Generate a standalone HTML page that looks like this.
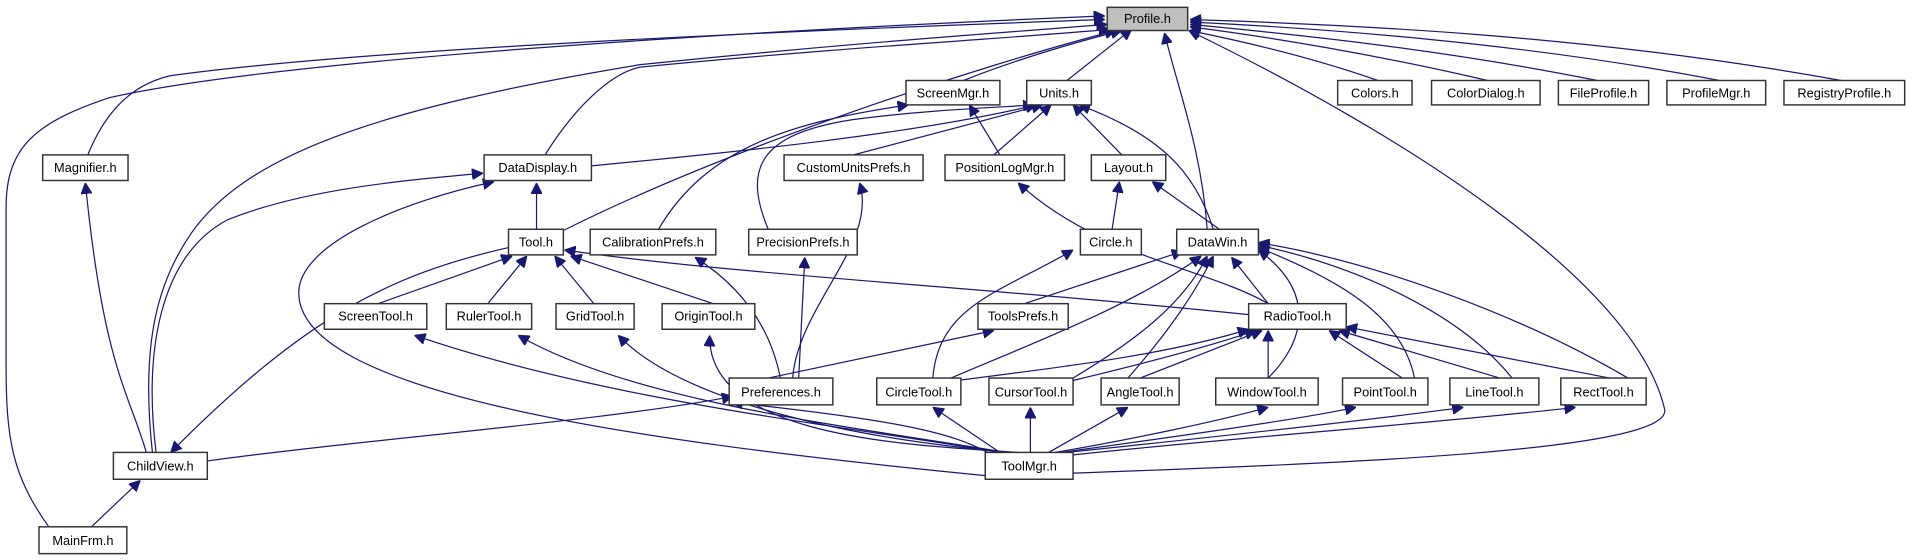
<!DOCTYPE html>
<html><head><meta charset="utf-8"><style>
html,body{margin:0;padding:0;background:#fff;}
svg{display:block}
text{font-family:"Liberation Sans",sans-serif;font-size:10.5px;fill:#000;text-anchor:middle}
rect{fill:#fff;stroke:#333;stroke-width:1.2}
path{fill:none;stroke:#191970;stroke-width:1}
</style></head><body>
<svg width="1912" height="560" viewBox="0 0 1568 459.2" xmlns="http://www.w3.org/2000/svg">
<defs><marker id="a" viewBox="0 0 10 10" refX="10" refY="5" markerWidth="9" markerHeight="9" markerUnits="userSpaceOnUse" orient="auto"><path d="M0,0L10,5L0,10z" style="fill:#191970;stroke:#191970"/></marker></defs>
<g marker-end="url(#a)">
<!-- to Profile -->
<path d="M40,432 C10,390 5,360 5,300 L5,170 C5,120 30,100 90,80 C200,55 500,30 906,13"/>
<path d="M72,127 C85,95 105,70 140,62 C300,40 650,25 906,16"/>
<path d="M125,371 C115,280 130,230 157,191 C200,130 300,90 525,53 C700,35 820,27 908,20"/>
<path d="M447,127 C470,90 500,60 525,55 C700,38 850,30 910,24"/>
<path d="M462,189 C600,120 800,55 915,25"/>
<path d="M790,66 C830,50 880,35 920,25"/>
<path d="M875,66 L928,24"/>
<path d="M990,188 C985,120 965,70 955,27"/>
<path d="M880,388 C1100,380 1375,370 1365,335 C1340,230 1150,110 975,25"/>
<path d="M1130,66 C1070,45 1010,32 975,25"/>
<path d="M1220,66 C1130,45 1040,30 976,22"/>
<path d="M1310,66 C1180,40 1060,28 976,20"/>
<path d="M1410,66 C1250,35 1080,23 976,18"/>
<path d="M1510,66 C1300,28 1100,20 976,16"/>
<!-- Magnifier, DataDisplay -->
<path d="M120,371 C105,320 85,300 70,150"/>
<path d="M128,371 C118,290 130,210 187,180 C250,155 330,148 396,142"/>
<path d="M808,390 C500,360 245,320 245,240 C245,200 330,165 405,149"/>
<path d="M440,188 L440,150"/>
<path d="M417,203 C320,225 250,260 140,371"/>
<!-- tools to Tool -->
<path d="M310,249 L420,210"/>
<path d="M400,249 L432,210"/>
<path d="M487,249 L455,210"/>
<path d="M585,249 L468,210"/>
<path d="M1024,258 C800,235 600,225 463,205"/>
<!-- Units etc -->
<path d="M485,136 C600,125 750,110 850,86"/>
<path d="M540,188 C580,120 650,100 745,86"/>
<path d="M630,188 C610,140 620,110 700,98 C760,90 820,88 848,86"/>
<path d="M700,127 L855,86"/>
<path d="M815,127 L862,86"/>
<path d="M820,127 L795,86"/>
<path d="M920,127 L880,86"/>
<path d="M995,188 C980,140 950,110 885,86"/>
<path d="M912,188 L918,149"/>
<path d="M1000,188 L945,149"/>
<path d="M1040,249 C990,220 900,210 835,150"/>
<path d="M650,310 C655,250 720,200 705,150"/>
<path d="M640,310 C630,260 600,230 570,211"/>
<path d="M655,310 L660,211"/>
<path d="M630,310 L815,271"/>
<path d="M840,249 L970,206"/>
<path d="M170,378 C300,360 500,345 601,325"/>
<!-- row6 to DataWin/RadioTool/Circle -->
<path d="M765,310 C770,250 820,240 880,205"/>
<path d="M780,310 C850,280 930,250 985,210"/>
<path d="M880,310 C930,280 970,250 990,210"/>
<path d="M925,310 C960,270 980,240 995,210"/>
<path d="M1040,310 C1070,280 1080,240 1032,205"/>
<path d="M1160,310 C1150,260 1100,230 1032,203"/>
<path d="M1240,310 C1200,260 1120,220 1032,201"/>
<path d="M1335,310 C1250,260 1130,215 1032,199"/>
<path d="M1040,249 L1010,211"/>
<path d="M785,312 C880,300 960,290 1024,270"/>
<path d="M880,312 C930,300 990,285 1030,271"/>
<path d="M935,310 L1035,271"/>
<path d="M1040,310 L1040,271"/>
<path d="M1150,310 L1090,271"/>
<path d="M1230,310 L1098,271"/>
<path d="M1320,310 L1104,268"/>
<!-- to ToolMgr tiers -->
<path d="M820,371 C700,350 500,330 340,275"/>
<path d="M825,371 C700,350 520,330 425,275"/>
<path d="M830,371 C700,360 560,330 507,275"/>
<path d="M835,371 C750,365 580,360 582,275"/>
<path d="M810,371 C780,355 740,345 600,330"/>
<path d="M820,371 L765,334"/>
<path d="M845,371 L845,334"/>
<path d="M860,371 L925,334"/>
<path d="M865,371 C930,360 1000,345 1040,334"/>
<path d="M870,371 C950,360 1060,345 1112,334"/>
<path d="M875,371 C980,360 1120,345 1200,334"/>
<path d="M880,373 C1000,360 1200,345 1292,334"/>
<path d="M75,432 L115,394"/>
</g>
<g>
<rect x="908" y="6" width="66" height="19" style="fill:#bfbfbf"/><text x="941" y="19">Profile.h</text>
<rect x="743" y="66" width="77" height="20"/><text x="781.5" y="80">ScreenMgr.h</text>
<rect x="842" y="66" width="53" height="20"/><text x="868.5" y="80">Units.h</text>
<rect x="1097" y="66" width="61" height="20"/><text x="1127.5" y="80">Colors.h</text>
<rect x="1174" y="66" width="89" height="20"/><text x="1218.5" y="80">ColorDialog.h</text>
<rect x="1278" y="66" width="74" height="20"/><text x="1315" y="80">FileProfile.h</text>
<rect x="1367" y="66" width="81" height="20"/><text x="1407.5" y="80">ProfileMgr.h</text>
<rect x="1463" y="66" width="99" height="20"/><text x="1512.5" y="80">RegistryProfile.h</text>
<rect x="35" y="127" width="70" height="21"/><text x="70" y="141">Magnifier.h</text>
<rect x="397" y="127" width="88" height="21"/><text x="441" y="141">DataDisplay.h</text>
<rect x="643" y="127" width="114" height="21"/><text x="700" y="141">CustomUnitsPrefs.h</text>
<rect x="775" y="127" width="98" height="21"/><text x="824" y="141">PositionLogMgr.h</text>
<rect x="895" y="127" width="61" height="21"/><text x="925.5" y="141">Layout.h</text>
<rect x="417" y="188" width="45" height="21"/><text x="439.5" y="202">Tool.h</text>
<rect x="484" y="188" width="103" height="21"/><text x="535.5" y="202">CalibrationPrefs.h</text>
<rect x="614" y="188" width="89" height="21"/><text x="658.5" y="202">PrecisionPrefs.h</text>
<rect x="886" y="188" width="50" height="21"/><text x="911" y="202">Circle.h</text>
<rect x="965" y="188" width="67" height="21"/><text x="998.5" y="202">DataWin.h</text>
<rect x="266" y="249" width="84" height="21"/><text x="308" y="263">ScreenTool.h</text>
<rect x="366" y="249" width="70" height="21"/><text x="401" y="263">RulerTool.h</text>
<rect x="456" y="249" width="64" height="21"/><text x="488" y="263">GridTool.h</text>
<rect x="543" y="249" width="76" height="21"/><text x="581" y="263">OriginTool.h</text>
<rect x="802" y="249" width="74" height="21"/><text x="839" y="263">ToolsPrefs.h</text>
<rect x="1024" y="249" width="80" height="21"/><text x="1064" y="263">RadioTool.h</text>
<rect x="598" y="310" width="85" height="22"/><text x="640.5" y="325">Preferences.h</text>
<rect x="719" y="310" width="69" height="22"/><text x="753.5" y="325">CircleTool.h</text>
<rect x="811" y="310" width="69" height="22"/><text x="845.5" y="325">CursorTool.h</text>
<rect x="903" y="310" width="64" height="22"/><text x="935" y="325">AngleTool.h</text>
<rect x="997" y="310" width="84" height="22"/><text x="1039" y="325">WindowTool.h</text>
<rect x="1101" y="310" width="70" height="22"/><text x="1136" y="325">PointTool.h</text>
<rect x="1189" y="310" width="73" height="22"/><text x="1225.5" y="325">LineTool.h</text>
<rect x="1280" y="310" width="70" height="22"/><text x="1315" y="325">RectTool.h</text>
<rect x="93" y="371" width="77" height="22"/><text x="131.5" y="386">ChildView.h</text>
<rect x="808" y="371" width="72" height="22"/><text x="844" y="386">ToolMgr.h</text>
<rect x="32" y="432" width="72" height="22"/><text x="68" y="447">MainFrm.h</text>
</g>
</svg>
</body></html>
